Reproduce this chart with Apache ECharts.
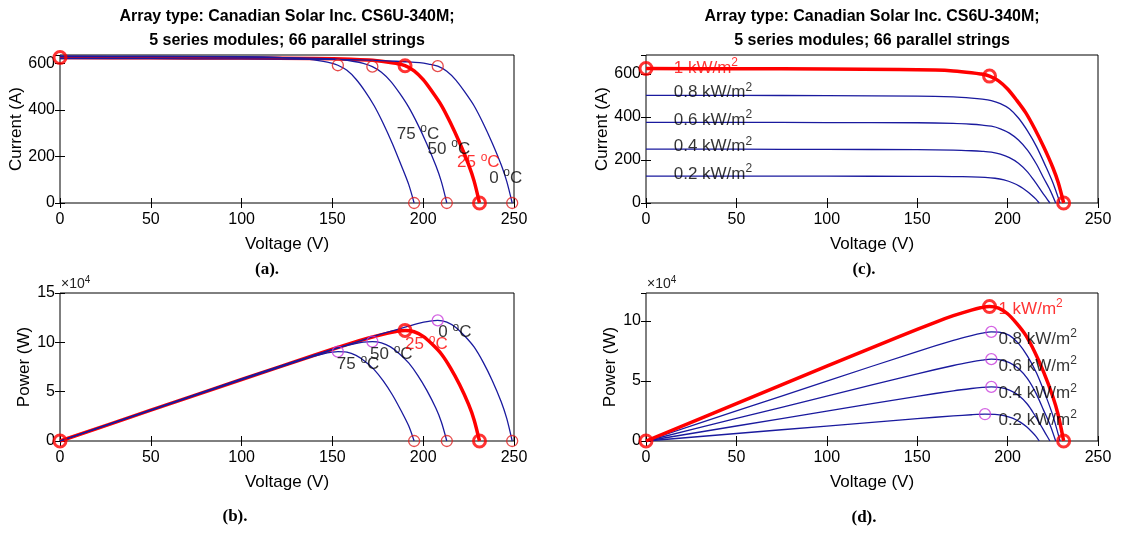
<!DOCTYPE html>
<html>
<head>
<meta charset="utf-8">
<script src="https://cdn.jsdelivr.net/npm/echarts/dist/echarts.min.js"></script>
<style>html,body{margin:0;padding:0;background:#fff}#chart{width:1125px;height:534px}</style>
</head>
<body>
<div id="chart"></div>
<script>
// ---------- tick labels ----------
const voltageTicks = [0, 50, 100, 150, 200, 250];
const currentTicks = [0, 200, 400, 600];
const powerTicksB = [0, 5, 10, 15];      // x10^4 W
const powerTicksD = [0, 5, 10];          // x10^4 W
const currentMaxA = 636, currentMaxC = 688, powerMaxD = 123300;

// ---------- (a)/(b): temperature sweep ----------
const tempNames = ['0 °C', '25 °C', '50 °C', '75 °C'];
const v0C  = [0, 50, 100, 150, 170, 180, 190, 198, 203, 208, 213, 218, 223, 228, 233, 238, 243, 246, 249];
const i0C  = [621, 620, 619, 617, 614, 611, 607, 603, 597, 588, 566, 528, 476, 418, 343, 258, 163, 93, 0];
const p0C  = [0, 31000, 61900, 92550, 104380, 109980, 115330, 119394, 121191, 122304, 120558, 115104, 106148, 95304, 79919, 61404, 39609, 22878, 0];

const v25C = [0, 50, 100, 140, 160, 170, 180, 185, 190, 195, 200, 205, 210, 215, 220, 225, 228, 231];
const i25C = [625, 624, 623, 621, 618, 614, 606, 600, 590, 568, 530, 478, 420, 345, 260, 165, 95, 0];
const p25C = [0, 31200, 62300, 86940, 98880, 104380, 109080, 111000, 112100, 110760, 106000, 97990, 88200, 74175, 57200, 37125, 21660, 0];

const v50C = [0, 50, 100, 130, 150, 162, 167, 172, 177, 182, 187, 192, 197, 202, 207, 210, 213];
const i50C = [629, 628, 627, 624, 619, 608, 600, 586, 562, 524, 472, 412, 338, 254, 160, 92, 0];
const p50C = [0, 31400, 62700, 81120, 92850, 98496, 100200, 100792, 99474, 95368, 88264, 79104, 66586, 51308, 33120, 19320, 0];

const v75C = [0, 50, 100, 120, 135, 145, 150, 153, 158, 163, 168, 173, 178, 183, 188, 192, 195];
const i75C = [632, 631, 629, 626, 619, 609, 600, 592, 570, 532, 480, 418, 342, 256, 160, 80, 0];
const p75C = [0, 31550, 62900, 75120, 83565, 88305, 90000, 90576, 90060, 86716, 80640, 72314, 60876, 46848, 30080, 15360, 0];

// maximum power points and open-circuit voltages (order: 0, 25, 50, 75 °C)
const mppTempV = [208, 190, 172, 153];
const mppTempI = [588, 590, 586, 592];
const mppTempP = [122304, 112100, 100792, 90576];
const vocTemp  = [249, 231, 213, 195];
const iscSTC   = 625;

// ---------- (c)/(d): irradiance sweep (1 kW/m² = 25 °C curve) ----------
const irrNames = ['1 kW/m', '0.8 kW/m', '0.6 kW/m', '0.4 kW/m', '0.2 kW/m'];
const v08 = [0, 50, 100, 150, 170, 180, 186, 191, 196, 201, 206, 211, 216, 221, 225, 229];
const i08 = [500, 500, 499, 497, 493, 488, 483, 476, 462, 438, 395, 335, 262, 172, 95, 0];
const p08 = [0, 25000, 49900, 74550, 83810, 87840, 89838, 90916, 90552, 88038, 81370, 70685, 56592, 38012, 21375, 0];

const v06 = [0, 50, 100, 150, 170, 180, 186, 191, 196, 201, 206, 211, 216, 220, 223.5, 226.6];
const i06 = [375, 375, 374, 373, 370, 366, 362, 357, 345, 325, 293, 246, 180, 115, 60, 0];
const p06 = [0, 18750, 37400, 55950, 62900, 65880, 67332, 68187, 67620, 65325, 60358, 51906, 38880, 25300, 13410, 0];

const v04 = [0, 50, 100, 150, 170, 180, 186, 191, 196, 201, 206, 211, 215, 218.5, 221, 223.4];
const i04 = [250, 250, 249, 248, 246, 243, 240, 236, 227, 211, 185, 145, 100, 58, 28, 0];
const p04 = [0, 12500, 24900, 37200, 41820, 43740, 44640, 45076, 44492, 42411, 38110, 30595, 21500, 12673, 6188, 0];

const v02 = [0, 50, 100, 150, 170, 180, 187.5, 193, 198, 203, 207, 210.5, 213.5, 215.8, 217.5];
const i02 = [125, 125, 124.5, 124, 123, 121.5, 119, 115, 107, 93, 76, 56, 35, 17, 0];
const p02 = [0, 6250, 12450, 18600, 20910, 21870, 22313, 22195, 21186, 18879, 15732, 11788, 7473, 3669, 0];

const mppIrrV = [190, 191, 191, 191, 187.5];
const mppIrrP = [112100, 90916, 68187, 45076, 22313];

// ---------- annotation anchors (data coordinates) ----------
const tempLabelA_V = [236.3, 218.6, 202.4, 185.4];
const tempLabelA_I = [107, 174, 232, 296];
const tempLabelB_V = [208.3, 190, 170.7, 152.4];
const tempLabelB_P = [109900, 98000, 87800, 77550];
const irrLabelC_V = [15.3, 15.3, 15.3, 15.3, 15.3];
const irrLabelC_I = [628, 513, 386, 262, 135];
const irrLabelD_V = [194.9, 194.9, 194.9, 194.9, 194.9];
const irrLabelD_P = [110000, 84900, 62600, 39800, 17500];

// ---------- styling ----------
const FONT = '"Liberation Sans", Arial, Helvetica, sans-serif';
const RED = '#ff0000', BLUE = '#1a1a9e', MAG = '#c83cdc', THINRED = '#e01e1e';
const grids = [
  {left: 60, top: 55, width: 454, height: 148},
  {left: 60, top: 293, width: 454, height: 148},
  {left: 646, top: 55, width: 452, height: 148},
  {left: 646, top: 293, width: 452, height: 148}
];

const xAxes = [], yAxes = [];
function addAxes(g, yMax, yInterval, yName, yNameGap, fmt) {
  const tick = {show: true, inside: true, length: 5, lineStyle: {color: '#000', width: 1}};
  xAxes.push({gridIndex: g, type: 'value', position: 'bottom',
    min: voltageTicks[0], max: voltageTicks[voltageTicks.length - 1], interval: voltageTicks[1] - voltageTicks[0],
    axisLine: {show: false}, axisTick: tick, splitLine: {show: false},
    axisLabel: {color: '#000', fontSize: 16, fontFamily: FONT, margin: 9},
    name: 'Voltage (V)', nameLocation: 'middle', nameGap: 33,
    nameTextStyle: {color: '#000', fontSize: 17, fontFamily: FONT}});
  xAxes.push({gridIndex: g, type: 'value', position: 'top',
    min: voltageTicks[0], max: voltageTicks[voltageTicks.length - 1], interval: voltageTicks[1] - voltageTicks[0],
    axisLine: {show: false}, axisTick: tick, splitLine: {show: false}, axisLabel: {show: false}});
  yAxes.push({gridIndex: g, type: 'value', position: 'left', min: 0, max: yMax, interval: yInterval,
    axisLine: {show: false}, axisTick: tick, splitLine: {show: false},
    axisLabel: {color: '#000', fontSize: 16, fontFamily: FONT, margin: 5, showMaxLabel: yMax % yInterval === 0, formatter: fmt},
    name: yName, nameLocation: 'middle', nameGap: yNameGap, nameRotate: 90,
    nameTextStyle: {color: '#000', fontSize: 17, fontFamily: FONT}});
  yAxes.push({gridIndex: g, type: 'value', position: 'right', min: 0, max: yMax, interval: yInterval,
    axisLine: {show: false}, axisTick: tick, splitLine: {show: false}, axisLabel: {show: false}});
}
const curFmt = v => String(v);
const powFmt = v => String(v / 10000);
addAxes(0, currentMaxA, currentTicks[1] - currentTicks[0], 'Current (A)', 33, curFmt);
addAxes(1, powerTicksB[powerTicksB.length - 1] * 1e4, (powerTicksB[1] - powerTicksB[0]) * 1e4, 'Power (W)', 24, powFmt);
addAxes(2, currentMaxC, currentTicks[1] - currentTicks[0], 'Current (A)', 33, curFmt);
addAxes(3, powerMaxD, (powerTicksD[1] - powerTicksD[0]) * 1e4, 'Power (W)', 24, powFmt);

const zip = (a, b) => a.map((x, k) => [x, b[k]]);
const series = [];
function line(g, xs, ys, color, width, z) {
  series.push({type: 'line', xAxisIndex: 2 * g, yAxisIndex: 2 * g, data: zip(xs, ys),
    showSymbol: false, symbol: 'none', smooth: 0.3, silent: true, z: z,
    lineStyle: {color: color, width: width, join: 'round'}, animation: false});
}
function marks(g, pts, color, size, bw) {
  series.push({type: 'scatter', xAxisIndex: 2 * g, yAxisIndex: 2 * g, data: pts, clip: false,
    symbol: 'circle', symbolSize: size, silent: true, z: 6, animation: false,
    itemStyle: {color: 'rgba(0,0,0,0)', borderColor: color, borderWidth: bw}});
}
function richFor(color) {
  return {
    t: {color: color, fontSize: 17, lineHeight: 22, fontFamily: FONT},
    s: {color: color, fontSize: 12, lineHeight: 12, verticalAlign: 'top', fontFamily: FONT}
  };
}
function labels(g, pts, color) {
  series.push({type: 'scatter', xAxisIndex: 2 * g, yAxisIndex: 2 * g, data: pts, clip: false,
    symbolSize: 0.1, itemStyle: {color: 'rgba(0,0,0,0)'}, silent: true, z: 8, animation: false,
    label: {show: true, position: 'right', distance: 0, color: color,
      formatter: p => p.data[2], rich: richFor(color)}});
}
const tempRich = n => '{t|' + n.replace(' °C', ' ') + '}{s|o}{t|C}';
const irrRich = n => '{t|' + n + '}{s|2}';

// (a) I-V vs temperature
line(0, v25C, i25C, RED, 3.5, 2);
line(0, v0C, i0C, BLUE, 1.3, 3);
line(0, v50C, i50C, BLUE, 1.3, 3);
line(0, v75C, i75C, BLUE, 1.3, 3);
marks(0, [0, 2, 3].map(k => [mppTempV[k], mppTempI[k]]).concat([0, 2, 3].map(k => [vocTemp[k], 0])), THINRED, 11, 1.3);
marks(0, [[0, iscSTC], [mppTempV[1], mppTempI[1]], [vocTemp[1], 0]], RED, 12, 3);
labels(0, [0, 2, 3].map(k => [tempLabelA_V[k], tempLabelA_I[k], tempRich(tempNames[k])]), '#000');
labels(0, [[tempLabelA_V[1], tempLabelA_I[1], tempRich(tempNames[1])]], RED);

// (b) P-V vs temperature
line(1, v25C, p25C, RED, 3.5, 2);
line(1, v0C, p0C, BLUE, 1.3, 3);
line(1, v50C, p50C, BLUE, 1.3, 3);
line(1, v75C, p75C, BLUE, 1.3, 3);
marks(1, [0, 2, 3].map(k => [mppTempV[k], mppTempP[k]]), MAG, 11, 1.3);
marks(1, [0, 2, 3].map(k => [vocTemp[k], 0]), THINRED, 11, 1.3);
marks(1, [[0, 0], [mppTempV[1], mppTempP[1]], [vocTemp[1], 0]], RED, 12, 3);
labels(1, [0, 2, 3].map(k => [tempLabelB_V[k], tempLabelB_P[k], tempRich(tempNames[k])]), '#000');
labels(1, [[tempLabelB_V[1], tempLabelB_P[1], tempRich(tempNames[1])]], RED);

// (c) I-V vs irradiance
line(2, v08, i08, BLUE, 1.3, 2);
line(2, v06, i06, BLUE, 1.3, 2);
line(2, v04, i04, BLUE, 1.3, 2);
line(2, v02, i02, BLUE, 1.3, 2);
line(2, v25C, i25C, RED, 3.5, 3);
marks(2, [[0, iscSTC], [mppTempV[1], mppTempI[1]], [vocTemp[1], 0]], RED, 12, 3);
labels(2, [1, 2, 3, 4].map(k => [irrLabelC_V[k], irrLabelC_I[k], irrRich(irrNames[k])]), '#000');
labels(2, [[irrLabelC_V[0], irrLabelC_I[0], irrRich(irrNames[0])]], RED);

// (d) P-V vs irradiance
line(3, v08, p08, BLUE, 1.3, 2);
line(3, v06, p06, BLUE, 1.3, 2);
line(3, v04, p04, BLUE, 1.3, 2);
line(3, v02, p02, BLUE, 1.3, 2);
line(3, v25C, p25C, RED, 3.5, 3);
marks(3, [1, 2, 3, 4].map(k => [mppIrrV[k], mppIrrP[k]]), MAG, 11, 1.3);
marks(3, [[0, 0], [mppIrrV[0], mppIrrP[0]], [vocTemp[1], 0]], RED, 12, 3);
labels(3, [1, 2, 3, 4].map(k => [irrLabelD_V[k], irrLabelD_P[k], irrRich(irrNames[k])]), '#000');
labels(3, [[irrLabelD_V[0], irrLabelD_P[0], irrRich(irrNames[0])]], RED);

// ---------- titles, captions, exponent labels ----------
const titleText = 'Array type: Canadian Solar Inc. CS6U-340M;\n5 series modules; 66 parallel strings';
const captions = ['(a).', '(b).', '(c).', '(d).'];
const graphic = [];
[287, 872].forEach(cx => graphic.push({type: 'text', x: cx, y: 29, silent: true,
  style: {text: titleText, fill: '#000', font: 'bold 16px ' + FONT, align: 'center', verticalAlign: 'middle', lineHeight: 24}}));
[[267, 270], [235, 517], [864, 270], [864, 518]].forEach((p, k) => graphic.push({type: 'text', x: p[0], y: p[1], silent: true,
  style: {text: captions[k], fill: '#000', font: 'bold 17px "Liberation Serif", "Times New Roman", serif', align: 'center', verticalAlign: 'middle'}}));
[61, 647].forEach(x0 => graphic.push({type: 'text', x: x0, y: 284, silent: true,
  style: {text: '{a|×10}{b|4}', align: 'left', verticalAlign: 'middle',
    rich: {a: {fontSize: 14, lineHeight: 18, fill: '#222', fontFamily: FONT},
           b: {fontSize: 10, lineHeight: 10, verticalAlign: 'top', fill: '#222', fontFamily: FONT}}}}));

const chart = echarts.init(document.getElementById('chart'), null, {renderer: 'canvas'});
chart.setOption({
  backgroundColor: '#fff',
  animation: false,
  grid: grids.map(g => Object.assign({show: true, borderColor: '#000', borderWidth: 1, backgroundColor: 'rgba(0,0,0,0)'}, g)),
  xAxis: xAxes,
  yAxis: yAxes,
  series: series,
  graphic: graphic
});
</script>
</body>
</html>
